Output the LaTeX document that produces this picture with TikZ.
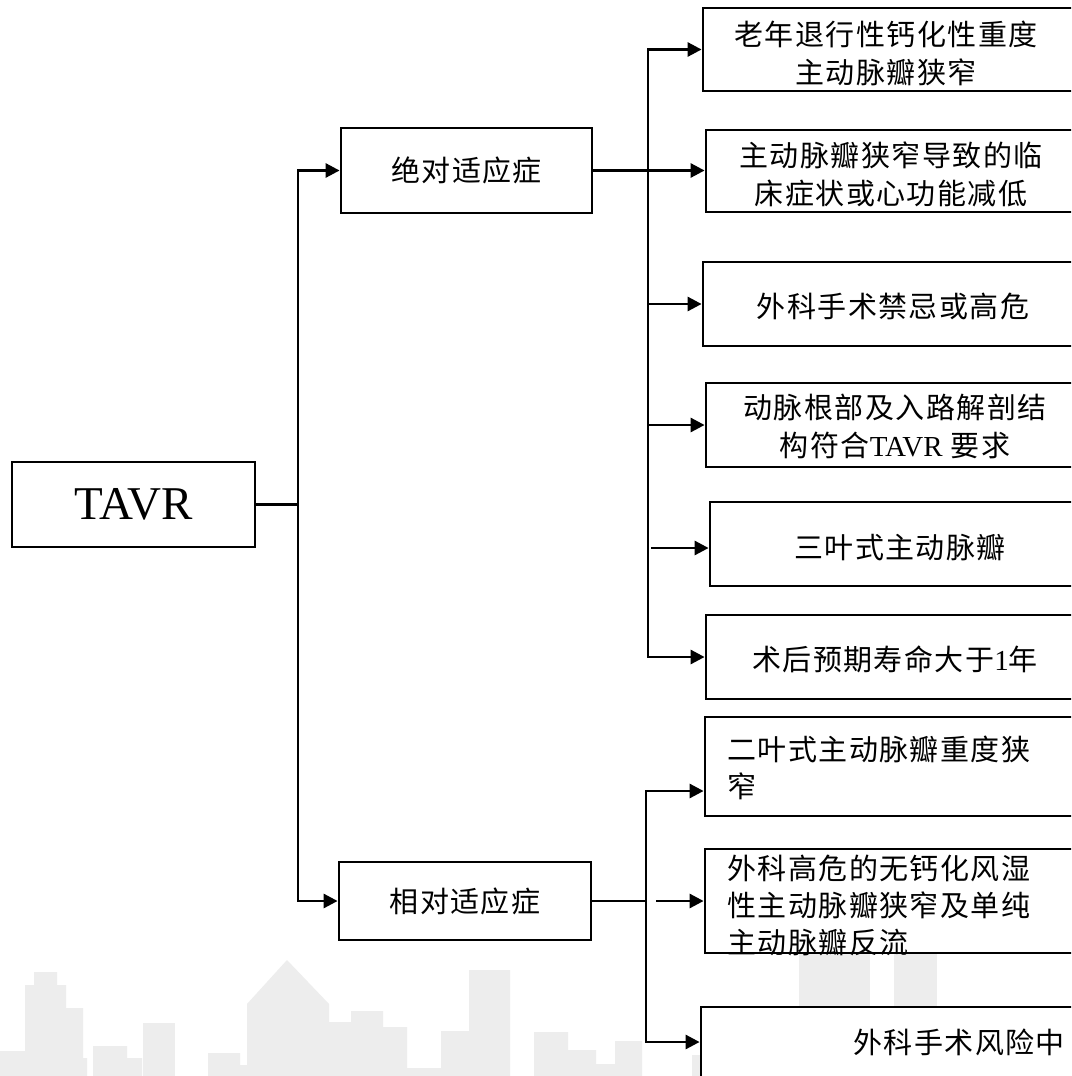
\documentclass[tikz,border=0pt]{standalone}
\usepackage{fontspec}
\setmainfont{Liberation Serif}
\newfontfamily\cjk[LetterSpace=5]{Noto Sans CJK SC}
\usetikzlibrary{arrows.meta}
\begin{document}
\begin{tikzpicture}[x=1pt,y=-1pt,
  box/.style={draw,line width=2.8pt,fill=white,inner sep=0pt,rectangle},
  lbl/.style={inner sep=0pt,align=center,font={\cjk\fontsize{29}{38}\selectfont}},
  lbll/.style={inner sep=0pt,align=left,anchor=west,font={\cjk\fontsize{29}{37}\selectfont}},
  conn/.style={line width=2.8pt},
  arr/.style={line width=2.8pt,-{Triangle[length=14pt,width=14pt]}},
  wm/.style={fill=black!7,draw=none}]
\useasboundingbox (0,0) rectangle (1071,1076);
\clip (0,0) rectangle (1071,1076);
\fill[white] (0,0) rectangle (1071,1076);
% watermark skyline
\fill[wm] (0,1076) -- (0,1051) -- (25,1051) -- (25,985) -- (34,985) -- (34,972) -- (57,972) -- (57,985) -- (66,985) -- (66,1008) -- (83,1008) -- (83,1058) -- (87,1058) -- (87,1076) -- cycle;
\fill[wm] (93,1076) -- (93,1046) -- (127,1046) -- (127,1058) -- (142,1058) -- (142,1076) -- cycle;
\fill[wm] (143,1023) rectangle (175,1076);
\fill[wm] (208,1076) -- (208,1053) -- (240,1053) -- (240,1065) -- (247,1065) -- (247,1004) -- (287,960) -- (329,1004) -- (329,1022) -- (351,1022) -- (351,1011) -- (383,1011) -- (383,1027) -- (407,1027) -- (407,1068) -- (441,1068) -- (441,1031) -- (469,1031) -- (469,970) -- (510,970) -- (510,1076) -- cycle;
\fill[wm] (534,1076) -- (534,1032) -- (568,1032) -- (568,1050) -- (596,1050) -- (596,1064) -- (615,1064) -- (615,1041) -- (642,1041) -- (642,1076) -- cycle;
\fill[wm] (692,1055) rectangle (710,1076);
\fill[wm] (799,930) rectangle (870,1012);
\fill[wm] (894,930) rectangle (937,1012);
% main boxes
\node[box,minimum width=243,minimum height=85,font=\fontsize{47}{47}\selectfont] (tavr) at (133.5,504.5) {TAVR};
\node[box,minimum width=251,minimum height=85,font={\cjk\fontsize{29}{38}\selectfont}] (abs) at (466.5,170.5) {绝对适应症};
\node[box,minimum width=252,minimum height=78,font={\cjk\fontsize{29}{38}\selectfont}] (rel) at (465,901) {相对适应症};
% right boxes
\node[box,minimum width=387,minimum height=83] (b1) at (896.5,49.5) {};
\node[box,minimum width=384,minimum height=82] (b2) at (898,171) {};
\node[box,minimum width=387,minimum height=84] (b3) at (896.5,304) {};
\node[box,minimum width=384,minimum height=84] (b4) at (898,425) {};
\node[box,minimum width=380,minimum height=84] (b5) at (900,544) {};
\node[box,minimum width=384,minimum height=84] (b6) at (898,657) {};
\node[box,minimum width=385,minimum height=99] (b7) at (897.5,766.5) {};
\node[box,minimum width=385,minimum height=104] (b8) at (897.5,901) {};
\node[box,minimum width=389,minimum height=113] (b9) at (895.5,1063.5) {};
% labels
\node[lbl] (t1) at (886,53.5) {老年退行性钙化性重度\\主动脉瓣狭窄};
\node[lbl] (t2) at (891,174) {主动脉瓣狭窄导致的临\\床症状或心功能减低};
\node[lbl] (t3) at (893,306) {外科手术禁忌或高危};
\node[lbl] (t4) at (895,426.5) {动脉根部及入路解剖结\\构符合{\rmfamily TAVR} 要求};
\node[lbl] (t5) at (900,548) {三叶式主动脉瓣};
\node[lbl] (t6) at (895,659) {术后预期寿命大于{\rmfamily 1}年};
\node[lbll] (t7) at (727,768) {二叶式主动脉瓣重度狭\\窄};
\node[lbll] (t8) at (727,905) {外科高危的无钙化风湿\\性主动脉瓣狭窄及单纯\\主动脉瓣反流};
\node[lbll] (t9) at (853,1042) {外科手术风险中};
% connectors
\coordinate (j0) at (298,504.5);
\draw[conn] (tavr.east) -- (j0);
\draw[arr] (j0) |- (abs.west);
\draw[arr] (j0) |- (rel.west);
\coordinate (j1) at (648,170.5);
\draw[conn] (abs.east) -- (j1);
\draw[arr] (j1) |- (b1.west);
\draw[arr] (j1) -- (j1 -| b2.west);
\draw[arr] (j1) |- (b6.west);
\coordinate (a3) at (648,304);
\coordinate (a4) at (648,425);
\coordinate (a5) at (651,548);
\draw[arr] (a3) -- (a3 -| b3.west);
\draw[arr] (a4) -- (a4 -| b4.west);
\draw[arr] (a5) -- (a5 -| b5.west);
\coordinate (j2) at (646,901);
\draw[conn] (rel.east) -- (j2);
\coordinate (a7) at (646,791);
\coordinate (a8) at (656,901);
\coordinate (a9) at (646,1042);
\draw[arr] (j2) -- (a7) -- (a7 -| b7.west);
\draw[arr] (j2) -- (a9) -- (a9 -| b9.west);
\draw[arr] (a8) -- (b8.west);
\end{tikzpicture}
\end{document}
